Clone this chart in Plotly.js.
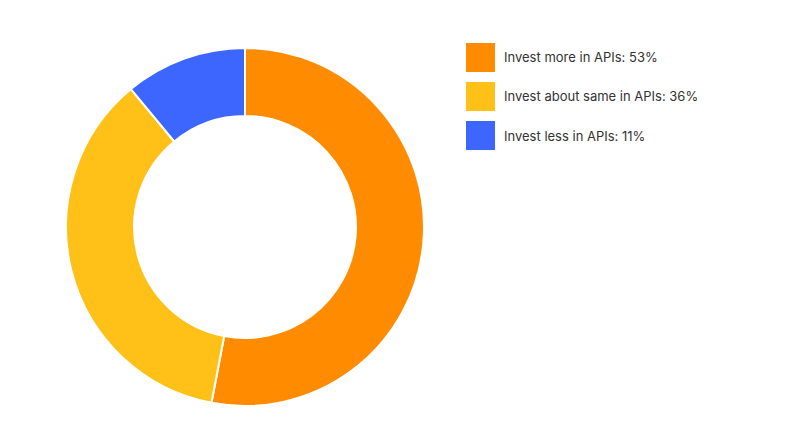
<!DOCTYPE html>
<html>
<head>
<meta charset="utf-8">
<script src="https://cdn.plot.ly/plotly-3.0.1.min.js"></script>
<style>
  html, body { margin: 0; padding: 0; background: #fff; }
  #chart { width: 789px; height: 431px; }
</style>
</head>
<body>
<div id="chart"></div>
<script>
const labels = ['Invest more in APIs', 'Invest about same in APIs', 'Invest less in APIs']
const values = [53, 36, 11]
const colors = ['#ff8c00', '#ffc118', '#3d66ff']

const W = 789
const H = 431
const px = (x) => x / W
const py = (y) => 1 - y / H

// legend drawn by hand so the swatches can be big
const shapes = []
const annotations = []
labels.forEach((label, i) => {
    let top = 43 + i * 39
    shapes.push({
        type: 'rect', xref: 'paper', yref: 'paper',
        x0: px(466), x1: px(495), y0: py(top), y1: py(top + 29),
        fillcolor: colors[i], line: { width: 0 }
    })
    annotations.push({
        xref: 'paper', yref: 'paper',
        x: px(502), y: py(top + 14.5),
        xanchor: 'left', yanchor: 'middle',
        text: label + ': ' + values[i] + '%',
        showarrow: false,
        font: { family: 'Inter, sans-serif', size: 13, color: '#333' }
    })
})

const data = [{
    type: 'pie',
    labels: labels,
    values: values,
    hole: 0.62,
    sort: false,
    direction: 'clockwise',
    rotation: 0,
    textinfo: 'none',
    hoverinfo: 'label+percent',
    marker: { colors: colors, line: { color: '#fff', width: 2 } },
    domain: { x: [px(66), px(424)], y: [py(406), py(48)] }
}]

const layout = {
    width: W,
    height: H,
    margin: { l: 0, r: 0, t: 0, b: 0 },
    paper_bgcolor: '#fff',
    showlegend: false,
    shapes: shapes,
    annotations: annotations
}

Plotly.newPlot('chart', data, layout, { displayModeBar: false, staticPlot: true })
</script>
</body>
</html>
